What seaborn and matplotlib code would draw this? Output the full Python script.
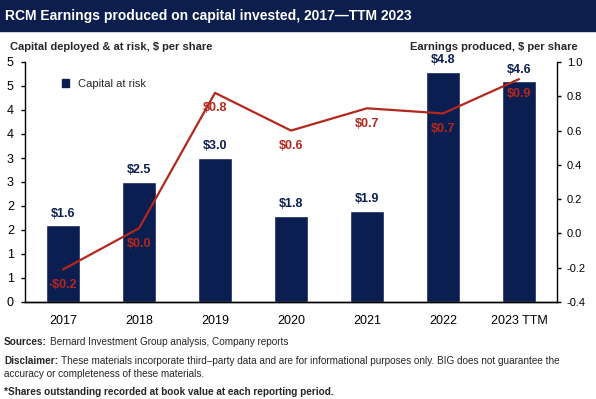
import matplotlib
matplotlib.use("Agg")
import matplotlib.pyplot as plt
import seaborn as sns
import numpy as np
from matplotlib.patches import Rectangle, Patch

# dados
years = ["2017", "2018", "2019", "2020", "2021", "2022", "2023 TTM"]
capital = [1.6, 2.5, 3.0, 1.8, 1.9, 4.8, 4.6]
earnings = [-0.21, 0.03, 0.82, 0.60, 0.73, 0.70, 0.90]
earn_labels = ["-$0.2", "$0.0", "$0.8", "$0.6", "$0.7", "$0.7", "$0.9"]

NAVY = "#0B1E52"
RED = "#B3271D"

sns.set_theme(style="white")
plt.rcParams["font.family"] = ["Liberation Sans", "DejaVu Sans"]

fig = plt.figure(figsize=(5.96, 3.99), dpi=100)
ax = fig.add_axes([25 / 596, 97 / 399, 532 / 596, 240 / 399])

sns.barplot(x=years, y=capital, color=NAVY, width=0.46, saturation=1, ax=ax)
ax.set_xlim(-0.5, 6.5)
ax.set_ylim(0, 5)
ax.set_yticks(np.arange(0, 5.01, 0.5))
ax.set_yticklabels([str(int(np.floor(v + 0.5))) for v in np.arange(0, 5.01, 0.5)])
ax.bar_label(ax.containers[0], labels=[f"${v:.1f}" for v in capital], padding=4,
             color=NAVY, fontsize=9, fontweight="bold")

ax2 = ax.twinx()
sns.lineplot(x=years, y=earnings, color=RED, linewidth=1.6, sort=False, ax=ax2)
ax2.set_ylim(-0.4, 1.0)
rt = np.round(np.linspace(-0.4, 1.0, 8), 1) + 0.0
ax2.set_yticks(rt)
ax2.set_yticklabels([f"{v + 0.0:.1f}" for v in rt])
for i, (v, lab) in enumerate(zip(earnings, earn_labels)):
    ax2.annotate(lab, xy=(i, v), xytext=(0, -11), textcoords="offset points",
                 ha="center", va="center", color=RED, fontsize=9, fontweight="bold")

# eixos
for a in (ax, ax2):
    a.set_xlabel("")
    a.set_ylabel("")
    a.grid(False)
    a.spines["top"].set_visible(False)
    for s in a.spines.values():
        s.set_color("black")
        s.set_linewidth(1)
ax.spines["right"].set_visible(False)
ax2.spines["left"].set_visible(False)
ax.tick_params(axis="y", left=True, length=3, width=1, labelsize=9, pad=5, colors="black")
ax.tick_params(axis="x", bottom=False, labelsize=9, pad=3, colors="black")
ax2.tick_params(axis="y", right=True, length=3, width=1, labelsize=8, pad=4, colors="black")

ax.legend(handles=[Patch(color=NAVY, label="Capital at risk")], loc="upper left",
          bbox_to_anchor=(0.05, 0.97), frameon=False, fontsize=8,
          handlelength=0.7, handleheight=0.7, handletextpad=0.8)

# faixa de título
fig.patches.append(Rectangle((0, 368 / 399), 1, 31 / 399, transform=fig.transFigure,
                             color="#0C1E4E", zorder=0))
fig.text(5 / 596, 1 - 16 / 399, "RCM Earnings produced on capital invested, 2017\u2014TTM 2023",
         color="white", fontsize=10, fontweight="bold", va="center", ha="left")

fig.text(10 / 596, 1 - 47 / 399, "Capital deployed & at risk, $ per share",
         fontsize=8, fontweight="bold", va="center", ha="left")
fig.text(578 / 596, 1 - 47 / 399, "Earnings produced, $ per share",
         fontsize=8, fontweight="bold", va="center", ha="right")

# rodapé
def footer(y, bold, rest):
    t = fig.text(4 / 596, 1 - y / 399, bold, fontsize=7.2, fontweight="bold", va="center")
    plt.annotate(rest, xy=(1, 0.5), xycoords=t, xytext=(2, 0), textcoords="offset points",
                 fontsize=7.2, va="center", ha="left")

footer(342, "Sources:", "Bernard Investment Group analysis, Company reports")
footer(361, "Disclaimer:", "These materials incorporate third\u2013party data and are for informational "
       "purposes only. BIG does not guarantee the")
fig.text(4 / 596, 1 - 374 / 399, "accuracy or completeness of these materials.", fontsize=7.2, va="center")
fig.text(4 / 596, 1 - 392 / 399, "*Shares outstanding recorded at book value at each reporting period.",
         fontsize=7.2, fontweight="bold", va="center")

fig.savefig("out.png", dpi=100)
